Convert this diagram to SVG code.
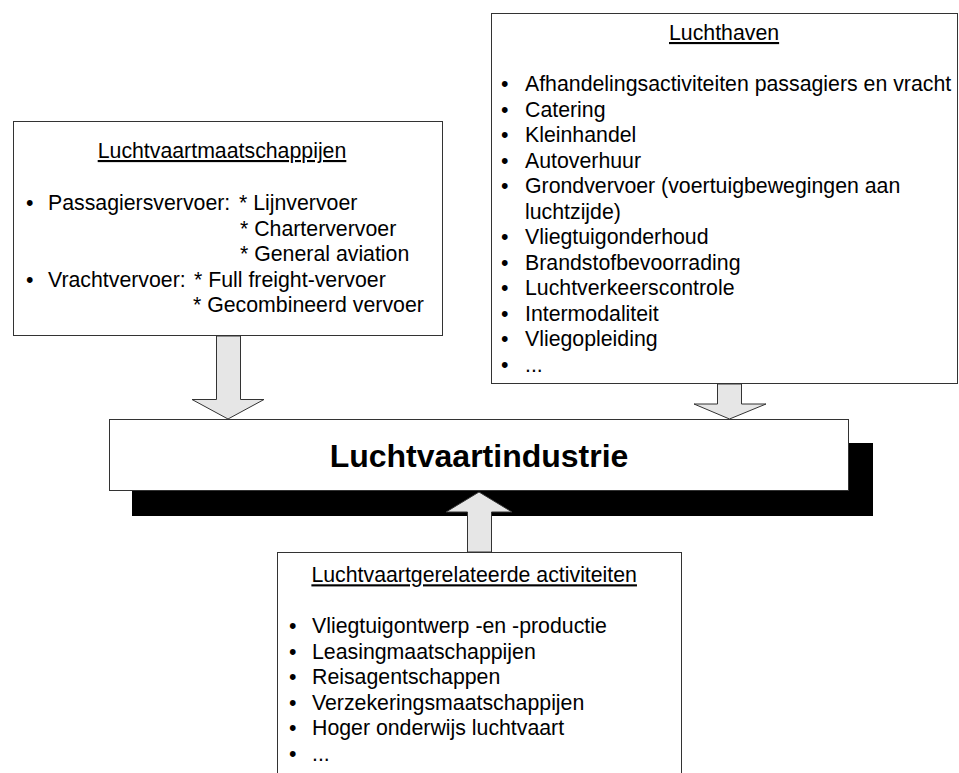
<svg xmlns="http://www.w3.org/2000/svg" width="959" height="773" viewBox="0 0 959 773">
<style>
.box{fill:#fff;stroke:#333;stroke-width:1}
.arrow{fill:#e6e6e6;stroke:#333;stroke-width:1;stroke-linejoin:miter}
text{font-family:"Liberation Sans",Arial,sans-serif;font-size:21.3px;fill:#000}
.title{text-decoration:underline}
.big{font-size:32px;font-weight:bold}
</style>
<rect width="959" height="773" fill="#fff"/>
<g id="industrie">
<rect x="132" y="443" width="741" height="73" fill="#000"/>
<rect class="box" x="109.5" y="419.5" width="739" height="71"/>
<text class="big" x="479" y="467" text-anchor="middle">Luchtvaartindustrie</text>
</g>
<g id="maatschappijen">
<rect class="box" x="13.5" y="121.5" width="429" height="214"/>
<text class="title" x="97.7" y="158">Luchtvaartmaatschappijen</text>
<text x="26" y="210">•</text><text x="48" y="210">Passagiersvervoer:</text><text x="239" y="210">* Lijnvervoer</text>
<text x="240" y="235.5">* Chartervervoer</text>
<text x="240" y="261">* General aviation</text>
<text x="26" y="286.5">•</text><text x="48" y="286.5">Vrachtvervoer:</text><text x="194" y="286.5">* Full freight-vervoer</text>
<text x="193" y="312">* Gecombineerd vervoer</text>
</g>
<g id="luchthaven">
<rect class="box" x="491.5" y="13.5" width="466" height="370"/>
<text class="title" x="669" y="40">Luchthaven</text>
<g>
<text x="501" y="91">•</text><text x="525" y="91">Afhandelingsactiviteiten passagiers en vracht</text>
<text x="501" y="116.5">•</text><text x="525" y="116.5">Catering</text>
<text x="501" y="142">•</text><text x="525" y="142">Kleinhandel</text>
<text x="501" y="167.5">•</text><text x="525" y="167.5">Autoverhuur</text>
<text x="501" y="193">•</text><text x="525" y="193">Grondvervoer (voertuigbewegingen aan</text>
<text x="525" y="218.5">luchtzijde)</text>
<text x="501" y="244">•</text><text x="525" y="244">Vliegtuigonderhoud</text>
<text x="501" y="269.5">•</text><text x="525" y="269.5">Brandstofbevoorrading</text>
<text x="501" y="295">•</text><text x="525" y="295">Luchtverkeerscontrole</text>
<text x="501" y="320.5">•</text><text x="525" y="320.5">Intermodaliteit</text>
<text x="501" y="346">•</text><text x="525" y="346">Vliegopleiding</text>
<text x="501" y="371.5">•</text><text x="525" y="371.5">...</text>
</g>
</g>
<g id="gerelateerd">
<rect class="box" x="277.5" y="552.5" width="404" height="240"/>
<text class="title" x="311.4" y="582.3">Luchtvaartgerelateerde activiteiten</text>
<text x="289" y="633.3">•</text><text x="312" y="633.3">Vliegtuigontwerp -en -productie</text>
<text x="289" y="658.8">•</text><text x="312" y="658.8">Leasingmaatschappijen</text>
<text x="289" y="684.2">•</text><text x="312" y="684.2">Reisagentschappen</text>
<text x="289" y="709.7">•</text><text x="312" y="709.7">Verzekeringsmaatschappijen</text>
<text x="289" y="735.1">•</text><text x="312" y="735.1">Hoger onderwijs luchtvaart</text>
<text x="289" y="760.6">•</text><text x="312" y="760.6">...</text>
</g>
<g id="connectors">
<polygon class="arrow" points="216.5,336 240.5,336 240.5,399.5 264,399.5 228,419 192,399.5 216.5,399.5"/>
<polygon class="arrow" points="717.5,384 741.5,384 741.5,404 766,404 729.5,419 694,404 717.5,404"/>
<polygon class="arrow" points="467.5,552 491.5,552 491.5,512 512,512 479,492 446,512 467.5,512"/>
</g>
</svg>
